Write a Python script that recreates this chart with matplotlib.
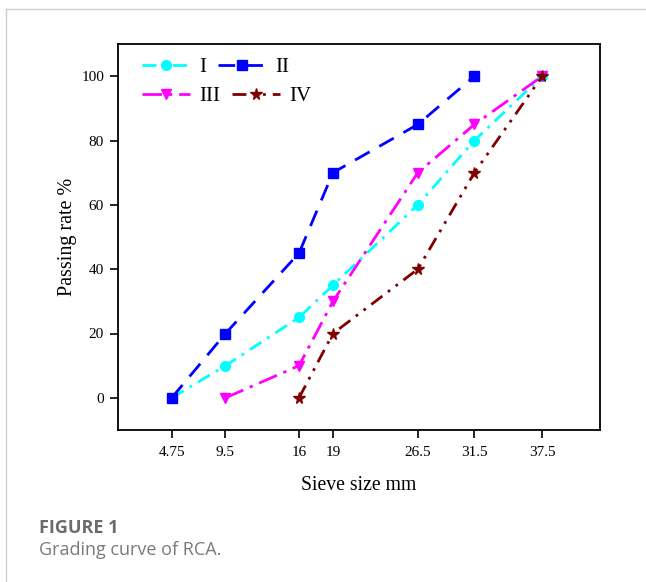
import matplotlib
matplotlib.use("Agg")
import matplotlib.pyplot as plt
from matplotlib.lines import Line2D

sieve_I = [4.75, 9.5, 16, 19, 26.5, 31.5, 37.5]
pass_I = [0, 10, 25, 35, 60, 80, 100]
sieve_II = [4.75, 9.5, 16, 19, 26.5, 31.5]
pass_II = [0, 20, 45, 70, 85, 100]
sieve_III = [9.5, 16, 19, 26.5, 31.5, 37.5]
pass_III = [0, 10, 30, 70, 85, 100]
sieve_IV = [16, 19, 26.5, 31.5, 37.5]
pass_IV = [0, 20, 40, 70, 100]
xticks = [4.75, 9.5, 16, 19, 26.5, 31.5, 37.5]
xticklabels = ["4.75", "9.5", "16", "19", "26.5", "31.5", "37.5"]
yticks = [0, 20, 40, 60, 80, 100]

serif = ["Liberation Serif", "DejaVu Serif"]
W, H = 646, 582
fig = plt.figure(figsize=(6.46, 5.82), dpi=100)
ax = fig.add_axes([118/W, 1-430/H, (600-118)/W, (430-44)/H])

lI, = ax.plot(sieve_I, pass_I, color="#00FFFF", lw=2, ls=(0, (5, 2.5, 1, 2.5)), marker="o", ms=7, label="I")
lII, = ax.plot(sieve_II, pass_II, color="#0000FF", lw=2, ls=(0, (6, 4)), marker="s", ms=6.5, label="II")
lIII, = ax.plot(sieve_III, pass_III, color="#FF00FF", lw=2, ls=(0, (7, 2.5, 1.2, 2.5)), marker="v", ms=7.5, label="III")
lIV, = ax.plot(sieve_IV, pass_IV, color="#800000", lw=2, ls=(0, (5, 2.5, 1, 2.5, 1, 2.5)), marker="*", ms=8.5, label="IV")

ax.set_xlim(0, 42.6)
ax.set_ylim(-10, 110)
ax.set_xticks(xticks)
ax.set_xticklabels(xticklabels)
ax.set_yticks(yticks)
ax.tick_params(direction="out", length=5.5, width=1.2, labelsize=11)
ax.tick_params(axis="x", pad=6)
ax.tick_params(axis="y", pad=4.5)
for lab in ax.get_xticklabels() + ax.get_yticklabels():
    lab.set_family(serif)
for s in ax.spines.values():
    s.set_linewidth(1.3)
ax.set_xlabel("Sieve size mm", family=serif, fontsize=14.2, labelpad=12)
ax.set_ylabel("Passing rate %", family=serif, fontsize=14.5, labelpad=3)

common = dict(ncol=2, loc="center left", frameon=False,
              prop={"family": serif, "size": 15}, handlelength=2.3,
              handletextpad=0.45, columnspacing=0.55, borderpad=0,
              borderaxespad=0, bbox_transform=fig.transFigure)
leg1 = ax.legend(handles=[lI, lII], bbox_to_anchor=(142/W, 1-67/H), **common)
ax.add_artist(leg1)
leg2 = ax.legend(handles=[lIII, lIV], bbox_to_anchor=(142/W, 1-96/H), **common)

# figure frame
fig.add_artist(Line2D([6/W, 1], [1-9/H, 1-9/H], color="#cccccc", lw=1, transform=fig.transFigure))
fig.add_artist(Line2D([6/W, 6/W], [0, 1-9/H], color="#cccccc", lw=1, transform=fig.transFigure))

fig.text(39/W, 1-528/H, "FIGURE 1", family=["Open Sans", "DejaVu Sans"], fontweight="bold",
         fontsize=13, color="#6b6b6b", va="center", ha="left")
fig.text(39/W, 1-550/H, "Grading curve of RCA.", family=["Open Sans", "DejaVu Sans"],
         fontsize=13, color="#7a7a7a", va="center", ha="left")

fig.savefig("out.png", dpi=100)
